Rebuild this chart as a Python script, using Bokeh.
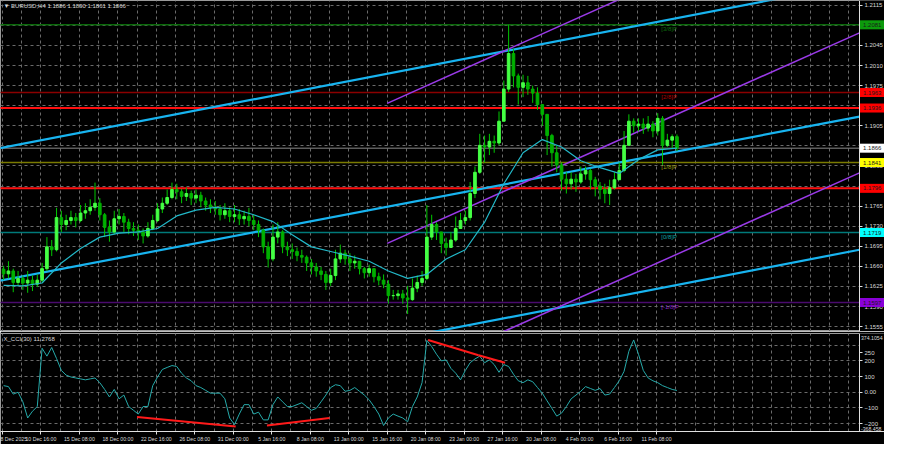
from bokeh.plotting import figure
from bokeh.layouts import column
from bokeh.models import ColumnDataSource, Range1d, FixedTicker, Label, PrintfTickFormatter
from bokeh.embed import file_html
from bokeh.resources import INLINE
from bokeh.core.properties import value

# ---------------- data ----------------
symbol = "EURUSD,H4"
last_ohlc = [1.1886, 1.1890, 1.1861, 1.1866]
cci_name = "X_CCI(30)"
cci_last = 11.2768

# one candle per two H4 slots (x index in H4 bars)
first_open = 1.1655
close = [
    1.1647, 1.1652, 1.1632, 1.1639, 1.1631, 1.1636, 1.1629, 1.1636, 1.1656, 1.1694,
    1.1689, 1.1745, 1.1733, 1.1740, 1.1745, 1.1740, 1.1753, 1.1757, 1.1763, 1.1770,
    1.1750, 1.1728, 1.1720, 1.1743, 1.1747, 1.1737, 1.1726, 1.1723, 1.1720, 1.1713,
    1.1726, 1.1740, 1.1760, 1.1770, 1.1780, 1.1794, 1.1790, 1.1782, 1.1787, 1.1779,
    1.1784, 1.1774, 1.1767, 1.1763, 1.1760, 1.1750, 1.1757, 1.1747, 1.1750, 1.1743,
    1.1747, 1.1740, 1.1733, 1.1723, 1.1694, 1.1673, 1.1711, 1.1720, 1.1694, 1.1689,
    1.1686, 1.1679, 1.1676, 1.1666, 1.1659, 1.1652, 1.1646, 1.1632, 1.1644, 1.1673,
    1.1683, 1.1673, 1.1666, 1.1669, 1.1656, 1.1649, 1.1656, 1.1642, 1.1636, 1.1629,
    1.1609, 1.1609, 1.1612, 1.1605, 1.1602, 1.1622, 1.1632, 1.1639, 1.1711, 1.1733,
    1.1720, 1.1700, 1.1693, 1.1706, 1.1726, 1.1740, 1.1745, 1.1787, 1.1824, 1.1871,
    1.1868, 1.1878, 1.1875, 1.1913, 1.1969, 1.2031, 1.1992, 1.1972, 1.1980, 1.1969,
    1.1962, 1.1942, 1.1925, 1.1888, 1.1858, 1.1837, 1.1812, 1.1804, 1.1812, 1.1807,
    1.1821, 1.1827, 1.1811, 1.1800, 1.1794, 1.1787, 1.1797, 1.1811, 1.1827, 1.1871,
    1.1913, 1.1905, 1.1908, 1.1901, 1.1908, 1.1896, 1.1918, 1.1871, 1.1880, 1.1886,
    1.1866]
high = [
    1.1661, 1.1669, 1.1656, 1.1652, 1.1644, 1.1652, 1.1644, 1.1646, 1.1666, 1.1711,
    1.1706, 1.1762, 1.1757, 1.1750, 1.1757, 1.1753, 1.1767, 1.1770, 1.1777, 1.1806,
    1.1779, 1.1753, 1.1740, 1.1757, 1.1760, 1.1753, 1.1743, 1.1737, 1.1733, 1.1726,
    1.1737, 1.1750, 1.1770, 1.1780, 1.1794, 1.1806, 1.1804, 1.1795, 1.1797, 1.1792,
    1.1794, 1.1790, 1.1780, 1.1777, 1.1774, 1.1767, 1.1770, 1.1763, 1.1767, 1.1760,
    1.1757, 1.1762, 1.1750, 1.1740, 1.1726, 1.1703, 1.1733, 1.1737, 1.1723, 1.1703,
    1.1700, 1.1693, 1.1689, 1.1679, 1.1673, 1.1666, 1.1659, 1.1652, 1.1656, 1.1689,
    1.1698, 1.1689, 1.1683, 1.1679, 1.1669, 1.1659, 1.1663, 1.1656, 1.1649, 1.1646,
    1.1636, 1.1619, 1.1619, 1.1619, 1.1626, 1.1639, 1.1644, 1.1652, 1.1767, 1.1750,
    1.1737, 1.1720, 1.1710, 1.1720, 1.1747, 1.1753, 1.1757, 1.1807, 1.1834, 1.1891,
    1.1888, 1.1891, 1.1888, 1.1930, 1.1984, 1.2081, 1.2039, 1.1996, 1.1994, 1.1992,
    1.1975, 1.1972, 1.1942, 1.1925, 1.1891, 1.1871, 1.1841, 1.1824, 1.1824, 1.1821,
    1.1834, 1.1834, 1.1830, 1.1816, 1.1807, 1.1804, 1.1811, 1.1824, 1.1841, 1.1896,
    1.1925, 1.1918, 1.1918, 1.1918, 1.1922, 1.1913, 1.1927, 1.1922, 1.1891, 1.1890,
    1.1890]
low = [
    1.1636, 1.1639, 1.1615, 1.1626, 1.1619, 1.1614, 1.1617, 1.1624, 1.1632, 1.1652,
    1.1678, 1.1686, 1.1720, 1.1723, 1.1733, 1.1728, 1.1737, 1.1743, 1.1750, 1.1757,
    1.1740, 1.1711, 1.1703, 1.1716, 1.1733, 1.1720, 1.1716, 1.1713, 1.1706, 1.1700,
    1.1710, 1.1723, 1.1737, 1.1753, 1.1767, 1.1777, 1.1777, 1.1770, 1.1774, 1.1767,
    1.1770, 1.1763, 1.1757, 1.1753, 1.1750, 1.1740, 1.1743, 1.1737, 1.1737, 1.1732,
    1.1733, 1.1730, 1.1723, 1.1711, 1.1683, 1.1658, 1.1669, 1.1700, 1.1683, 1.1678,
    1.1673, 1.1669, 1.1666, 1.1652, 1.1646, 1.1642, 1.1636, 1.1619, 1.1626, 1.1636,
    1.1666, 1.1663, 1.1652, 1.1656, 1.1646, 1.1639, 1.1642, 1.1632, 1.1627, 1.1622,
    1.1595, 1.1602, 1.1602, 1.1595, 1.1577, 1.1600, 1.1615, 1.1626, 1.1636, 1.1706,
    1.1706, 1.1683, 1.1679, 1.1693, 1.1703, 1.1726, 1.1733, 1.1740, 1.1779, 1.1821,
    1.1841, 1.1854, 1.1858, 1.1871, 1.1913, 1.1964, 1.1972, 1.1942, 1.1955, 1.1959,
    1.1945, 1.1933, 1.1905, 1.1854, 1.1834, 1.1824, 1.1792, 1.1787, 1.1794, 1.1790,
    1.1804, 1.1811, 1.1794, 1.1782, 1.1777, 1.1770, 1.1767, 1.1794, 1.1811, 1.1824,
    1.1871, 1.1893, 1.1895, 1.1891, 1.1895, 1.1885, 1.1888, 1.1837, 1.1868, 1.1866,
    1.1861]

# moving average, read every 4th candle
ma_values = [
    1.1627, 1.1626, 1.1631, 1.1666, 1.1691, 1.1711, 1.1718, 1.1720, 1.1726, 1.1748,
    1.1758, 1.1763, 1.1760, 1.1750, 1.1738, 1.1715, 1.1694, 1.1686, 1.1678, 1.1669,
    1.1652, 1.1639, 1.1646, 1.1673, 1.1689, 1.1737, 1.1804, 1.1858, 1.1881, 1.1868,
    1.1844, 1.1832, 1.1822, 1.1846, 1.1863, 1.1866]

cci = [
    42, 36, -12, 0, -61, -164, -121, -91, 280, 230,
    285, 215, 139, 109, 97, 91, 85, 79, 85, 91,
    61, 18, -30, 18, -42, -18, -91, -115, -139, -91,
    -91, 42, 97, 145, 158, 170, 164, 121, 91, 73,
    42, 30, 12, -6, -6, -6, -42, -164, -206, -139,
    -79, -79, -139, -127, -176, -176, -79, -30, -61, -91,
    -91, -79, -67, -91, -115, -103, -61, -18, 30, 48,
    42, 6, 12, 30, 6, -18, -48, -91, -139, -212,
    -164, -139, -152, -164, -188, -91, -30, 61, 330, 291,
    242, 200, 206, 152, 121, 79, 139, 188, 212, 230,
    188, 206, 176, 127, 176, 164, 115, 73, 61, 79,
    67, 30, -6, -55, -103, -152, -133, -91, -42, -18,
    6, 36, 24, 12, 24, -18, -12, 30, 73, 133,
    261, 333, 242, 139, 91, 73, 61, 42, 30, 18,
    11.2768]

time_ticks = [0, 16, 32, 48, 64, 80, 96, 112, 128, 144, 160, 176, 192, 208, 224, 240, 256, 272]
time_labels = ["8 Dec 2025", "10 Dec 16:00", "15 Dec 08:00", "18 Dec 00:00", "22 Dec 16:00",
               "26 Dec 08:00", "31 Dec 00:00", "5 Jan 16:00", "8 Jan 08:00", "13 Jan 00:00",
               "15 Jan 16:00", "20 Jan 08:00", "23 Jan 00:00", "27 Jan 16:00", "30 Jan 08:00",
               "4 Feb 00:00", "6 Feb 16:00", "11 Feb 08:00"]
price_ticks = [1.2115, 1.2080, 1.2045, 1.2010, 1.1975, 1.1940, 1.1905, 1.1870, 1.1835,
               1.1800, 1.1765, 1.1730, 1.1695, 1.1660, 1.1625, 1.1590, 1.1555]
cci_levels = [250, 200, 100, 0, -100, -200]
cci_grid = [300, 200, 100, 0, -100, -200]
cci_max = 374.1054
cci_min = -368.458

# Murrey levels and manual lines
level_names = ["[3/8]P", "[2/8]P", "[1/8]P", "[0/8]P", "[-1/8]P"]
level_prices = [1.2081, 1.1963, 1.1841, 1.1719, 1.1597]
level_line_colors = ["#0b6a0b", "#8b0000", "#7a7a00", "#007a7a", "#4a0a6e"]
level_text_colors = ["#0e6e0e", "#b00000", "#9a9a10", "#10a0a0", "#8a20c0"]
level_box_colors = ["#0c9a0c", "#ff0000", "#ffff00", "#00ffff", "#8a00d8"]
red_lines = [1.1936, 1.1796]
bid_price = 1.1866

# trend channels: (start bar, end bar, start price, end price)
blue_x0 = [-1, -1, -1]
blue_x1 = [356.4, 356.4, 356.4]
blue_y0 = [1.1866, 1.1635, 1.1400]
blue_y1 = [1.2154, 1.1921, 1.1689]
purple_x0 = [160, 160, 160]
purple_x1 = [356.4, 356.4, 356.4]
purple_y0 = [1.1944, 1.1700, 1.1456]
purple_y1 = [1.2313, 1.2067, 1.1823]

# CCI divergence lines
div_x0 = [56, 110, 177, 198]
div_y0 = [-158, -212, 333, 236]
div_x1 = [97, 136, 198, 209]
div_y1 = [-218, -164, 236, 188]

# ---------------- styling / layout ----------------
FW = 884
X_END = 356.4          # right edge of the chart area (price scale line)
FONT = "Liberation Sans"
TXT = "#d8d8d8"
GRID = "#6a6a6a"
P_LO, P_HI = 1.15465, 1.21234
C_LO, C_HI = -250, cci_max

n = len(close)
xs = [2 * k + 0.5 for k in range(n)]
opens = [first_open] + close[:-1]
tops = [max(o, c) for o, c in zip(opens, close)]
bots = [min(o, c) for o, c in zip(opens, close)]
cols = ["#44ff44" if c >= o else "#00b000" for o, c in zip(opens, close)]

xr = Range1d(-0.8, 366.8)


def style_axis(a, size="6px"):
    a.axis_line_color = "#e0e0e0"
    a.major_tick_line_color = "#e0e0e0"
    a.major_tick_out = 3
    a.major_tick_in = 0
    a.minor_tick_line_color = None
    a.major_label_standoff = 2
    a.major_label_text_color = TXT
    a.major_label_text_font = FONT
    a.major_label_text_font_size = size


# ================= price pane =================
p = figure(frame_width=FW, frame_height=331, x_range=xr, y_range=Range1d(P_LO, P_HI),
           x_axis_location=None, y_axis_location="right", output_backend="svg",
           toolbar_location=None, background_fill_color="black", border_fill_color="black",
           min_border_left=0, min_border_top=0, min_border_bottom=0, min_border_right=0)
p.outline_line_color = "#9a9a9a"
p.xgrid.ticker = FixedTicker(ticks=list(range(0, 356, 8)))
p.yaxis.ticker = FixedTicker(ticks=price_ticks)
p.yaxis.formatter = PrintfTickFormatter(format="%.4f")
p.yaxis.fixed_location = X_END
for g in (p.xgrid, p.ygrid):
    g.grid_line_color = GRID
    g.grid_line_dash = "3 3"
style_axis(p.yaxis[0])

# price-scale strip background (hides grid right of the scale line)
p.quad(left=[X_END], right=[370], bottom=[P_LO - 1], top=[P_HI + 1], fill_color="black", line_color=None)

# horizontal levels, ending at the price scale
lv_p = level_prices + red_lines + [bid_price]
lv_c = level_line_colors + ["#ff1010", "#ff1010", "#8a8a8a"]
lv_w = [1.5] * len(level_prices) + [2, 2, 1]
p.segment(x0=[-1] * len(lv_p), y0=lv_p, x1=[X_END] * len(lv_p), y1=lv_p,
          line_color=lv_c, line_width=lv_w)

# trend channels
p.segment(x0=blue_x0, y0=blue_y0, x1=blue_x1, y1=blue_y1, line_color="#18b4f0", line_width=2.2)
p.segment(x0=purple_x0, y0=purple_y0, x1=purple_x1, y1=purple_y1, line_color="#9a3ae8", line_width=1.5)

# candles
src = ColumnDataSource(dict(x=xs, high=high, low=low, top=tops, bottom=bots, color=cols))
p.segment(x0="x", y0="low", x1="x", y1="high", line_color="#00c800", line_width=1, source=src)
p.vbar(x="x", width=1.1, top="top", bottom="bottom", fill_color="color", line_color="color", source=src)

# moving average
ma_x = [2 * k + 0.5 for k in range(0, n, 4)]
p.line(ma_x, ma_values, line_color="#22b8c8", line_width=1.2)

# Murrey labels
p.text(x=[274] * len(level_names), y=level_prices, text=level_names,
       text_color=level_text_colors, text_font=value(FONT), text_font_size="6px",
       text_baseline="top", y_offset=1)

p.add_layout(Label(x=3, y=329, x_units="screen", y_units="screen",
                   text="\u25bc " + symbol + "  " + " ".join(f"{v:.4f}" for v in last_ohlc),
                   text_color=TXT, text_font=FONT, text_font_size="6px", text_baseline="top"))

# price boxes on the scale (drawn above the axis)
box_p = level_prices + red_lines + [bid_price]
box_c = level_box_colors + ["#ff0000", "#ff0000", "#ffffff"]
box_src = ColumnDataSource(dict(y=box_p, color=box_c, label=[f"{v:.4f}" for v in box_p]))
r1 = p.rect(x=X_END + 5.3, y="y", width=10.2, height=9, height_units="screen",
            fill_color="color", line_color=None, source=box_src)
r2 = p.text(x=X_END + 1.5, y="y", text="label", text_color="#1a1a1a", text_font=value(FONT),
            text_font_size="6px", text_baseline="middle", source=box_src)
r1.level = "overlay"
r2.level = "overlay"

# ================= CCI pane =================
c = figure(frame_width=FW, frame_height=98, x_range=xr, y_range=Range1d(C_LO, C_HI),
           y_axis_location="right", output_backend="svg", toolbar_location=None,
           background_fill_color="black", border_fill_color="black",
           min_border_left=0, min_border_top=2, min_border_bottom=13, min_border_right=0)
c.outline_line_color = "#9a9a9a"
c.xgrid.ticker = FixedTicker(ticks=list(range(0, 356, 8)))
c.ygrid.ticker = FixedTicker(ticks=cci_grid)
for g in (c.xgrid, c.ygrid):
    g.grid_line_color = GRID
    g.grid_line_dash = "3 3"
c.yaxis.ticker = FixedTicker(ticks=cci_levels)
c.yaxis.major_label_overrides = {0: "0.00"}
c.yaxis.fixed_location = X_END
c.xaxis.ticker = FixedTicker(ticks=time_ticks)
c.xaxis.major_label_overrides = {t: l for t, l in zip(time_ticks, time_labels)}
style_axis(c.xaxis[0], "5.2px")
style_axis(c.yaxis[0])
c.xaxis.major_label_text_align = "left"
c.xaxis.major_label_standoff = 1

c.quad(left=[X_END], right=[370], bottom=[C_LO - 50], top=[C_HI + 50], fill_color="black", line_color=None)

c.line(xs, cci, line_color="#26aaaa", line_width=1)
c.segment(x0=div_x0, y0=div_y0, x1=div_x1, y1=div_y1, line_color="#ff1a1a", line_width=2)

c.add_layout(Label(x=3, y=96, x_units="screen", y_units="screen",
                   text=f"{cci_name} {cci_last:.4f}", text_color=TXT, text_font=FONT,
                   text_font_size="6px", text_baseline="top"))
ext = c.text(x=[X_END + 0.6, X_END + 0.6], y=[C_HI, C_LO], text=[f"{cci_max:.4f}", f"{cci_min:.3f}"],
             text_color=TXT, text_font=value(FONT), text_font_size="5.2px",
             text_baseline=["top", "bottom"], y_offset=[2, -1])
ext.level = "overlay"

layout = column(p, c, spacing=0)
open("out.html", "w").write(file_html(layout, INLINE))
